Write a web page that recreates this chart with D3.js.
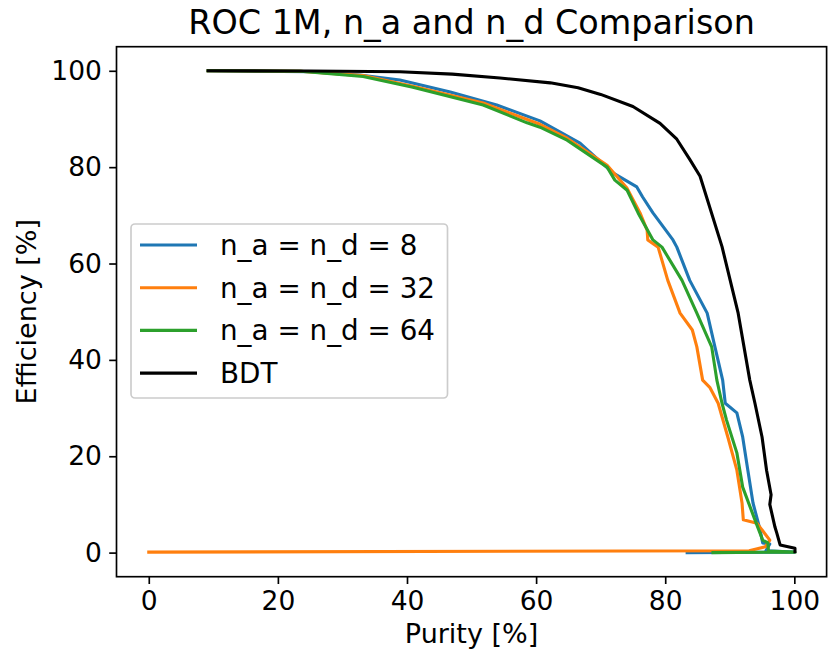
<!DOCTYPE html>
<html>
<head>
<meta charset="utf-8">
<script src="https://cdn.jsdelivr.net/npm/d3@7"></script>
<style>
  html, body { margin: 0; padding: 0; background: #fff; }
  svg { display: block; font-family: "DejaVu Sans", sans-serif; }
</style>
</head>
<body>
<svg id="chart" width="828" height="659"></svg>
<script>
// ---------- data (purity %, efficiency %) ----------
const titleText = "ROC 1M, n_a and n_d Comparison";
const xLabel = "Purity [%]";
const yLabel = "Efficiency [%]";
const xTicks = [0, 20, 40, 60, 80, 100];
const yTicks = [0, 20, 40, 60, 80, 100];
const seriesNames = ["n_a = n_d = 8", "n_a = n_d = 32", "n_a = n_d = 64", "BDT"];
const seriesColors = ["#1f77b4", "#ff7f0e", "#2ca02c", "#000000"];

const purity8 = [9.2, 25.0, 32.7, 38.9, 46.7, 53.9, 60.6, 66.8, 71.9, 75.6, 76.5, 78.1, 81.2, 81.8, 83.8, 86.5, 87.7, 88.9, 89.3, 91.1, 92.0, 92.8, 93.6, 94.7, 95.1, 96.2, 95.6, 100.0, 83.4];
const eff8    = [100, 99.8, 99.1, 98.1, 95.6, 92.9, 89.6, 85.0, 78.8, 75.9, 73.8, 70.5, 64.9, 63.4, 56.5, 49.7, 42.7, 35.8, 31.0, 29.0, 24.0, 17.1, 10.3, 4.7, 2.0, 1.8, 0.4, 0.1, 0.0];

const purity32 = [9.2, 23.5, 33.2, 40.9, 51.8, 60.6, 64.8, 71.0, 74.1, 76.1, 77.2, 77.3, 78.9, 80.4, 82.3, 84.2, 84.9, 85.8, 86.9, 88.2, 89.7, 91.1, 91.9, 92.1, 94.2, 96.2, 95.5, 93.0, 0.0];
const eff32    = [100, 99.9, 99.0, 96.8, 93.3, 88.9, 86.0, 80.4, 75.6, 70.5, 66.9, 64.9, 63.4, 56.5, 49.7, 46.2, 42.7, 35.8, 34.3, 31.0, 24.0, 17.1, 10.3, 6.8, 6.1, 2.6, 1.2, 0.4, 0.1];

const purity64 = [9.2, 23.5, 33.2, 40.9, 51.8, 58.6, 60.6, 64.8, 71.0, 72.2, 74.1, 75.8, 78.1, 79.5, 82.6, 84.9, 87.2, 88.0, 88.8, 89.5, 91.1, 92.0, 93.9, 95.1, 95.9, 96.0, 100.1, 87.4];
const eff64    = [100, 99.9, 98.8, 96.6, 92.9, 89.2, 88.3, 85.6, 80.0, 77.3, 75.2, 70.5, 64.9, 63.4, 56.5, 49.7, 42.7, 35.8, 31.0, 27.5, 20.7, 13.6, 6.8, 2.6, 2.0, 0.3, 0.1, 0.0];

const purityBDT = [9.2, 25.0, 38.9, 47.0, 54.4, 62.2, 66.5, 70.0, 75.0, 79.2, 81.8, 83.8, 85.4, 88.8, 91.3, 93.1, 93.9, 95.0, 95.7, 96.4, 96.2, 97.0, 97.3, 97.8, 100.1, 100.1];
const effBDT    = [100, 99.96, 99.8, 99.3, 98.5, 97.5, 96.5, 95.1, 92.6, 89.1, 85.8, 81.6, 78.1, 63.5, 49.7, 35.8, 31.0, 24.0, 17.1, 12.0, 10.0, 5.3, 4.0, 1.6, 0.9, 0.2];

const seriesPurity = [purity8, purity32, purity64, purityBDT];
const seriesEff = [eff8, eff32, eff64, effBDT];

// ---------- layout ----------
const svg = d3.select("#chart");
const pLeft = 116.5, pRight = 826.6, pTop = 46.7, pBottom = 576.7;
const tickFont = "26.5px", labelFont = "27px", legendFont = "27.8px", titleFont = "33.4px";

const x = d3.scaleLinear().domain([-5, 105]).range([pLeft, pRight]);
const y = d3.scaleLinear().domain([-5, 105]).range([pBottom, pTop]);

// lines
const line = d3.line().x(d => x(d[0])).y(d => y(d[1]));
const plot = svg.append("g");
seriesPurity.forEach((pur, i) => {
  const pts = pur.map((p, j) => [p, seriesEff[i][j]]);
  plot.append("path")
    .datum(pts)
    .attr("d", line)
    .attr("fill", "none")
    .attr("stroke", seriesColors[i])
    .attr("stroke-width", 3.1)
    .attr("stroke-linejoin", "round")
    .attr("stroke-linecap", "square");
});

// axes
const xAxis = d3.axisBottom(x).tickValues(xTicks).tickSize(7.3).tickPadding(7);
const yAxis = d3.axisLeft(y).tickValues(yTicks).tickSize(7.3).tickPadding(7.3);

const gx = svg.append("g").attr("transform", `translate(0,${pBottom})`).call(xAxis);
const gy = svg.append("g").attr("transform", `translate(${pLeft},0)`).call(yAxis);
[gx, gy].forEach(g => {
  g.select(".domain").remove();
  g.selectAll(".tick line").attr("stroke", "#000").attr("stroke-width", 1.67);
  g.selectAll(".tick text").attr("fill", "#000").style("font-size", tickFont).style("font-family", "DejaVu Sans");
});

// spines
svg.append("rect")
  .attr("x", pLeft).attr("y", pTop)
  .attr("width", pRight - pLeft).attr("height", pBottom - pTop)
  .attr("fill", "none").attr("stroke", "#000").attr("stroke-width", 1.67);

// title & labels
svg.append("text")
  .attr("x", (pLeft + pRight) / 2).attr("y", 34)
  .attr("text-anchor", "middle")
  .style("font-size", titleFont)
  .text(titleText);

svg.append("text")
  .attr("x", (pLeft + pRight) / 2).attr("y", 643)
  .attr("text-anchor", "middle")
  .style("font-size", labelFont)
  .text(xLabel);

svg.append("text")
  .attr("transform", `translate(36,${(pTop + pBottom) / 2}) rotate(-90)`)
  .attr("text-anchor", "middle")
  .style("font-size", labelFont)
  .text(yLabel);

// legend
const lg = svg.append("g");
lg.append("rect")
  .attr("x", 131).attr("y", 224)
  .attr("width", 316.5).attr("height", 174)
  .attr("rx", 4).attr("ry", 4)
  .attr("fill", "#fff").attr("fill-opacity", 0.8)
  .attr("stroke", "#cccccc").attr("stroke-width", 1.67);
seriesNames.forEach((name, i) => {
  const cy = 245 + i * 42.7;
  lg.append("line")
    .attr("x1", 140).attr("x2", 197)
    .attr("y1", cy).attr("y2", cy)
    .attr("stroke", seriesColors[i]).attr("stroke-width", 3.1);
  lg.append("text")
    .attr("x", 220).attr("y", cy + 10)
    .style("font-size", legendFont)
    .text(name);
});
</script>
</body>
</html>
